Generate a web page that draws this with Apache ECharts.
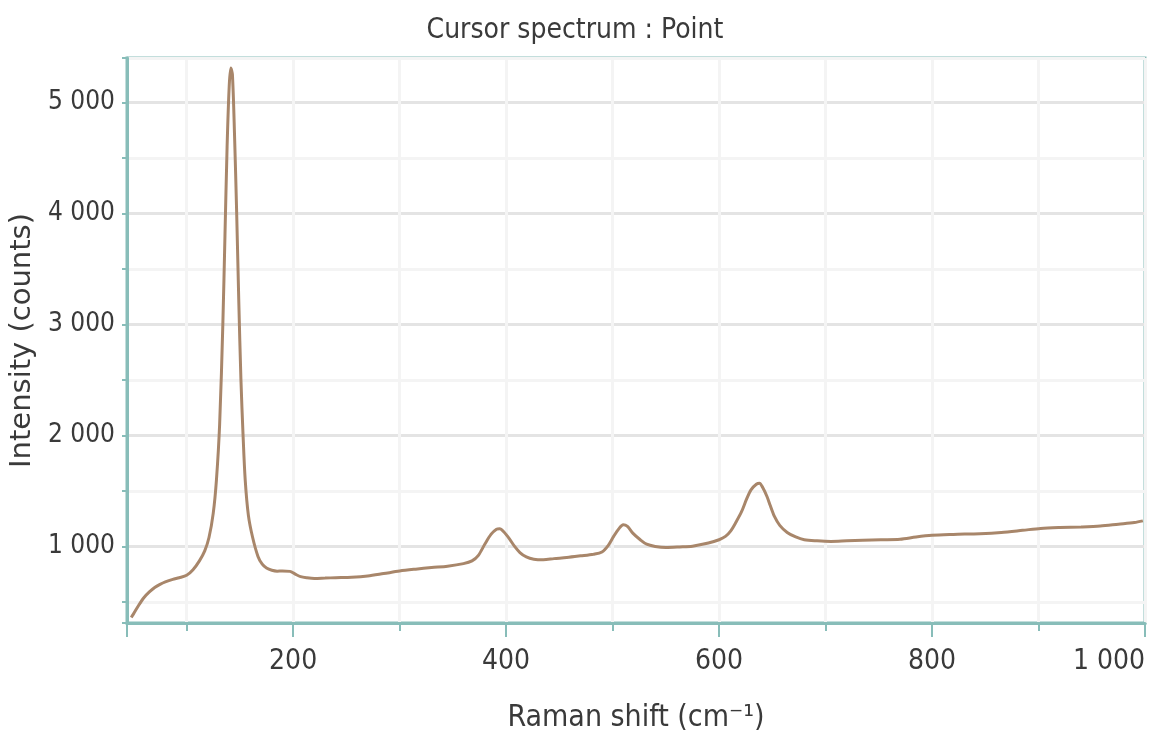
<!DOCTYPE html>
<html>
<head>
<meta charset="utf-8">
<script src="https://cdn.jsdelivr.net/npm/echarts@6/dist/echarts.min.js"></script>
<style>
html,body{margin:0;padding:0;background:#fff;}
#chart{width:1150px;height:744px;}
</style>
</head>
<body>
<div id="chart"></div>
<script>
const titleText = 'Cursor spectrum : Point';
const xAxisName = 'Raman shift (cm\u207B\u00B9)';
const yAxisName = 'Intensity (counts)';

const ramanShift = [48,50,55,60,65,70,75,80,87,93,100,106,112,117,121,125,128,131,134,136,138,140,141.5,143,145,147,149,151,153,155,158,162,167,171,175,180,185,190,197,202,207,213,220,230,240,255,270,285,300,315,330,345,360,368,374,380,386,391,394,398,403,408,413,419,426,435,445,457,470,482,490,496,501,506,510,514,519,526,532,540,550,563,575,590,600,606,611,616,621,626,630,635,638,641,645,648,652,657,664,672,680,692,705,720,735,752,770,785,800,820,845,865,885,902,920,940,958,975,990,998];
const intensity = [360,390,470,540,590,630,658,680,703,718,740,790,870,960,1080,1300,1600,2100,3000,3800,4600,5150,5310,5250,4700,4000,3200,2500,2000,1600,1280,1080,910,840,805,785,777,778,775,750,728,718,712,715,718,722,733,755,778,795,810,822,845,870,920,1020,1110,1155,1160,1130,1070,1000,945,905,885,880,890,900,915,930,950,1010,1090,1160,1195,1180,1120,1060,1020,1000,990,995,1002,1030,1060,1090,1140,1220,1310,1430,1510,1560,1570,1530,1450,1370,1270,1190,1126,1085,1060,1050,1045,1050,1055,1060,1065,1085,1100,1108,1115,1126,1145,1162,1170,1175,1183,1200,1215,1230];

const xMin = 44, xMax = 1000, yMin = 310, yMax = 5400;
const teal = '#88bdb9';
const narrow = "'Liberation Sans Narrow', 'DejaVu Sans Condensed', 'Liberation Sans', sans-serif";

function fmt(v){
  if (v >= 1000) return Math.floor(v/1000) + ' ' + String(v % 1000).padStart(3,'0');
  return String(v);
}

const chart = echarts.init(document.getElementById('chart'), null, {renderer:'canvas'});
chart.setOption({
  animation:false,
  backgroundColor:'#fff',
  title:{
    text:titleText, left:'center', top:12,
    textStyle:{fontFamily:narrow, fontSize:28, fontWeight:'normal', color:'#3a3a3a'}
  },
  grid:{left:127, right:5, top:58, bottom:121, show:true, borderColor:teal, borderWidth:3, backgroundColor:'transparent'},
  xAxis:[{
    type:'value', min:xMin, max:xMax, splitNumber:10,
    name:xAxisName, nameLocation:'middle', nameGap:80,
    nameTextStyle:{fontFamily:narrow, fontSize:30, color:'#3a3a3a'},
    axisLine:{show:true, lineStyle:{color:teal, width:3}},
    axisTick:{show:true, length:8, lineStyle:{color:teal, width:2}},
    axisLabel:{show:false},
    splitLine:{show:true, lineStyle:{color:function(v){ return (v % 200 === 0) ? '#e4e4e4' : '#f2f2f2'; }, width:3}}
  },{
    type:'value', min:xMin, max:xMax, splitNumber:5, position:'bottom',
    axisLine:{show:false},
    axisTick:{show:true, length:14, lineStyle:{color:teal, width:2}},
    axisLabel:{show:true, margin:25, fontFamily:narrow, fontSize:28, color:'#3a3a3a', alignMaxLabel:'right',
      formatter:function(v){ return (v % 200 === 0) ? fmt(v) : ''; }},
    splitLine:{show:false}
  }],
  yAxis:{
    type:'value', min:yMin, max:yMax, splitNumber:10,
    name:yAxisName, nameLocation:'middle', nameGap:88,
    nameTextStyle:{fontFamily:"'DejaVu Sans', sans-serif", fontSize:29, color:'#3a3a3a'},
    axisLine:{show:true, lineStyle:{color:teal, width:3}},
    axisTick:{show:true, length:5, lineStyle:{color:teal, width:2}},
    axisLabel:{show:true, margin:12, fontFamily:narrow, fontSize:26, color:'#3a3a3a',
      formatter:function(v){ return (v % 1000 === 0) ? fmt(v) : ''; }},
    splitLine:{show:true, lineStyle:{color:['#e4e4e4','#f4f4f4'], width:3}}
  },
  series:[{
    type:'line', xAxisIndex:0, yAxisIndex:0,
    data: ramanShift.map((x,i)=>[x,intensity[i]]),
    showSymbol:false, smooth:0.3,
    lineStyle:{color:'#a8866a', width:3},
    itemStyle:{color:'#a8866a'}
  }]
});
</script>
</body>
</html>
